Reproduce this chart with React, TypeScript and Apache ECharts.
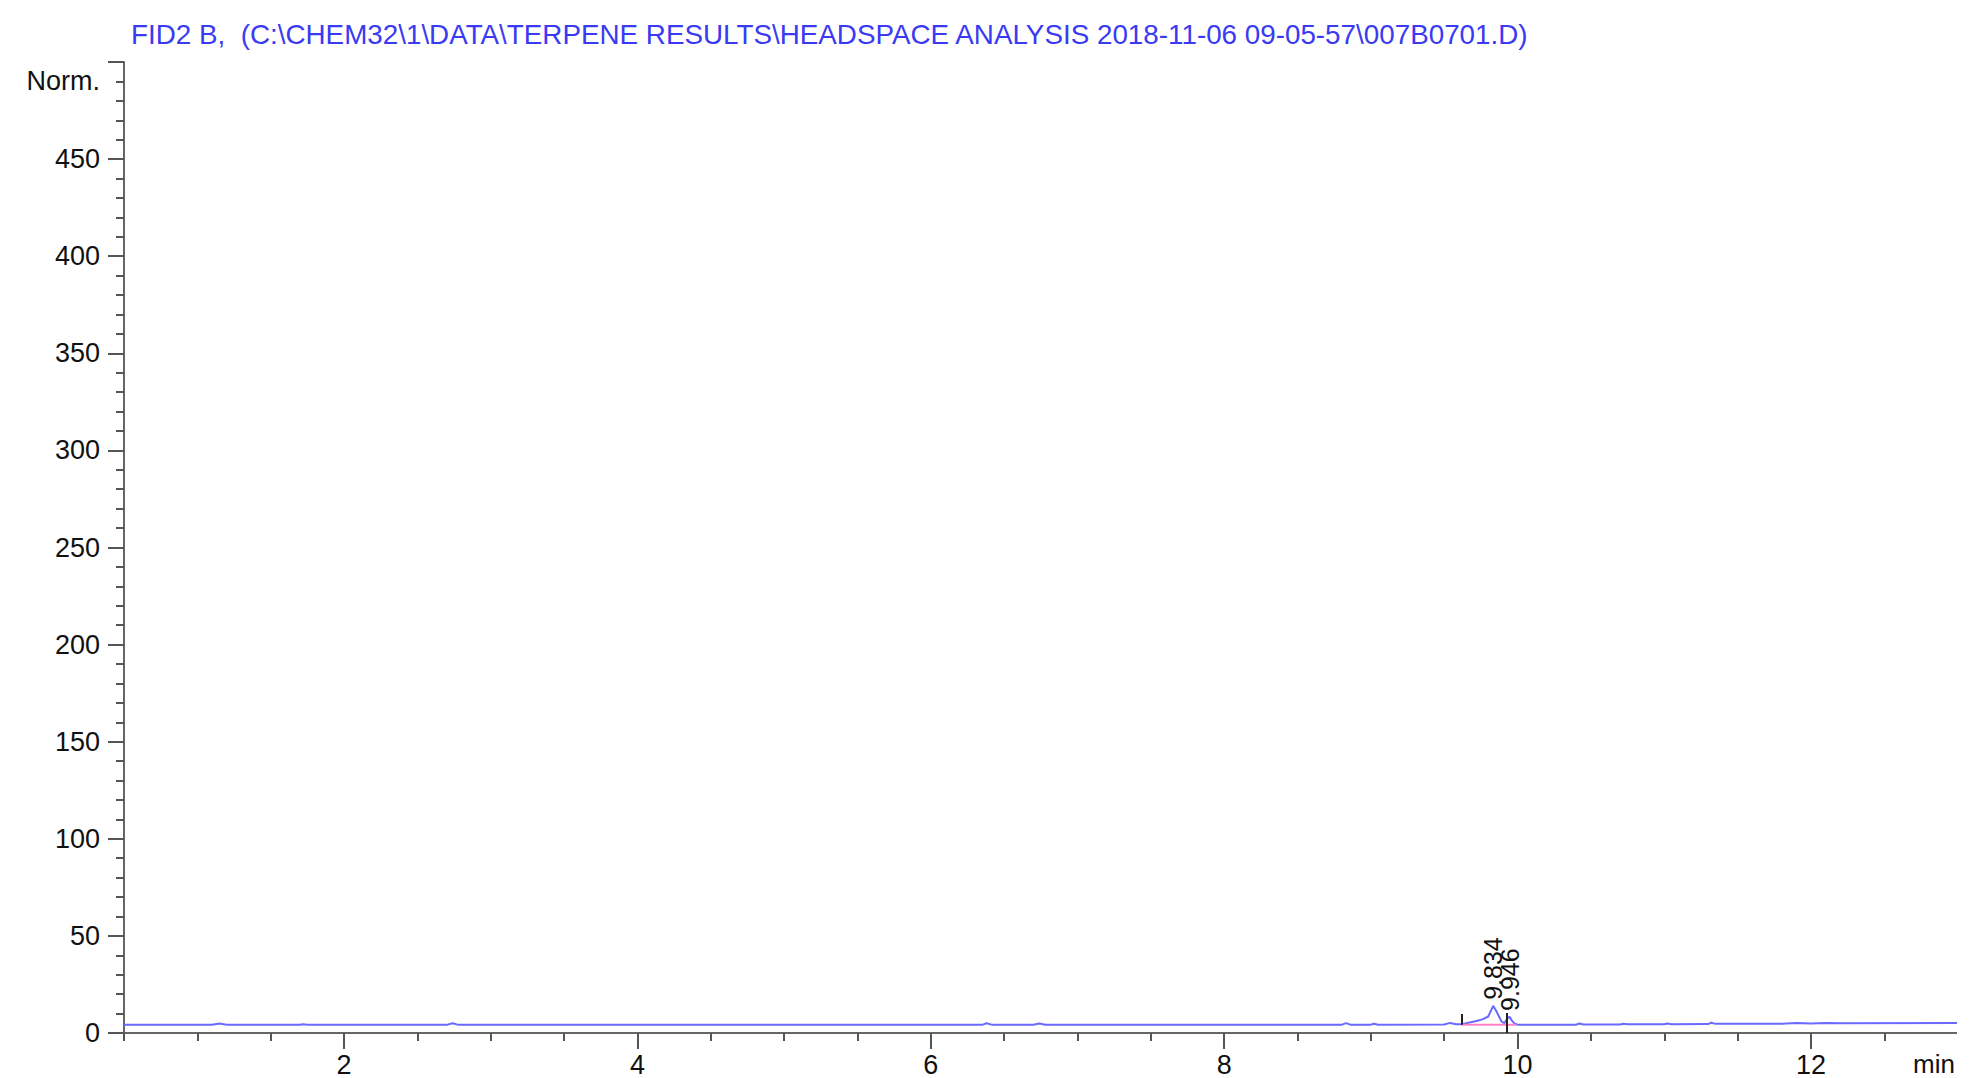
import React, { useEffect, useRef } from "react";
import * as echarts from "echarts";

const titleText =
  "FID2 B,  (C:\\CHEM32\\1\\DATA\\TERPENE RESULTS\\HEADSPACE ANALYSIS 2018-11-06 09-05-57\\007B0701.D)";
const yName = "Norm.";
const xName = "min";

const xMin = 0.5;
const xMax = 13.5;
const yMin = 0;
const yMax = 500;
const yStep = 50;
const xMajorTicks = [2, 4, 6, 8, 10, 12];
const xMinorStep = 0.5;

const retentionTime = [
  0.5, 1.1, 1.15, 1.2, 1.7, 1.72, 1.75, 2.7, 2.74, 2.78, 6.35, 6.38, 6.42,
  6.7, 6.74, 6.78, 8.8, 8.83, 8.86, 9.0, 9.02, 9.05, 9.5, 9.54, 9.58, 9.62,
  9.68, 9.72, 9.76, 9.8, 9.834, 9.86, 9.89, 9.91, 9.93, 9.946, 9.96, 9.98,
  10.0, 10.4, 10.42, 10.45, 10.7, 10.72, 10.75, 11.0, 11.02, 11.05, 11.3,
  11.32, 11.35, 11.8, 11.9, 12.0, 12.1, 12.2, 13.5,
];
const signal = [
  4.2, 4.2, 4.9, 4.2, 4.2, 4.5, 4.2, 4.2, 5.0, 4.2, 4.2, 5.0, 4.2,
  4.2, 4.9, 4.2, 4.2, 5.1, 4.3, 4.3, 4.8, 4.3, 4.4, 5.2, 4.5, 4.5,
  5.5, 6.2, 7.0, 8.5, 14.0, 10.5, 6.0, 5.0, 7.5, 8.3, 6.5, 4.8,
  4.3, 4.3, 4.9, 4.4, 4.4, 4.8, 4.5, 4.5, 4.9, 4.5, 4.6,
  5.3, 4.7, 4.8, 5.1, 4.9, 5.1, 5.0, 5.2,
];

const peakTimes = [9.834, 9.946];
const peakHeights = [14.0, 8.3];
const peakLabels = ["9.834", "9.946"];

const baselineTimes = [9.62, 9.99];
const baselineValues = [4.3, 4.2];

const markerTimes = [9.62, 9.928];
const markerFrom = [4.2, 0];
const markerTo = [9.8, 10.3];

const FONT = "'Liberation Sans', Arial, Helvetica, sans-serif";

export default function App() {
  const ref = useRef<HTMLDivElement>(null);

  useEffect(() => {
    if (!ref.current) return;
    const chart = echarts.init(ref.current, undefined, { renderer: "svg" });

    const lineData = retentionTime.map((t, i) => [t, signal[i]]);
    const baseData = baselineTimes.map((t, i) => [t, baselineValues[i]]);

    const option: any = {
      animation: false,
      backgroundColor: "#ffffff",
      grid: { left: 124, top: 62, right: 29, bottom: 67, containLabel: false },
      xAxis: [
        {
          type: "value",
          min: xMin,
          max: xMax,
          position: "bottom",
          axisLine: { show: true, onZero: false, lineStyle: { color: "#666", width: 2 } },
          axisTick: {
            show: true,
            customValues: xMajorTicks,
            length: 16,
            lineStyle: { color: "#555", width: 2 },
          },
          axisLabel: {
            show: true,
            customValues: xMajorTicks,
            fontSize: 27,
            fontFamily: FONT,
            color: "#111",
            margin: 18,
          },
          splitLine: { show: false },
        },
        {
          type: "value",
          min: xMin,
          max: xMax,
          interval: xMinorStep,
          position: "bottom",
          gridIndex: 0,
          axisLine: { show: false },
          axisTick: { show: true, length: 8, lineStyle: { color: "#555", width: 2 } },
          axisLabel: { show: false },
          splitLine: { show: false },
        },
      ],
      yAxis: {
        type: "value",
        min: yMin,
        max: yMax,
        interval: yStep,
        axisLine: { show: true, lineStyle: { color: "#666", width: 2 } },
        axisTick: { show: true, length: 16, lineStyle: { color: "#555", width: 2 } },
        minorTick: { show: true, splitNumber: 5, length: 8, lineStyle: { color: "#555", width: 2 } },
        axisLabel: {
          fontSize: 27,
          fontFamily: FONT,
          color: "#111",
          margin: 24,
          showMaxLabel: false,
        },
        splitLine: { show: false },
        minorSplitLine: { show: false },
      },
      graphic: [
        {
          type: "text",
          x: 131,
          y: 34,
          style: {
            text: titleText,
            fontSize: 27.8,
            fontFamily: FONT,
            fill: "#3a3af2",
            align: "left",
            verticalAlign: "middle",
          },
        },
        {
          type: "text",
          x: 100,
          y: 81,
          style: {
            text: yName,
            fontSize: 27,
            fontFamily: FONT,
            fill: "#111",
            align: "right",
            verticalAlign: "middle",
          },
        },
        {
          type: "text",
          x: 1913,
          y: 1051,
          style: {
            text: xName,
            fontSize: 26,
            fontFamily: FONT,
            fill: "#111",
            align: "left",
            verticalAlign: "top",
          },
        },
      ],
      series: [
        {
          type: "line",
          name: "FID2 B",
          xAxisIndex: 0,
          data: lineData,
          symbol: "none",
          lineStyle: { color: "#6a6aff", width: 2 },
          z: 3,
          markPoint: {
            symbol: "circle",
            symbolSize: 0,
            silent: true,
            data: peakTimes.map((t, i) => ({
              coord: [t, peakHeights[i]],
              name: peakLabels[i],
            })),
            label: {
              show: true,
              formatter: "{b}",
              position: "top",
              distance: 6,
              rotate: 90,
              align: "left",
              verticalAlign: "middle",
              fontSize: 25,
              fontFamily: FONT,
              color: "#111",
            },
          },
        },
        {
          type: "line",
          name: "baseline",
          xAxisIndex: 0,
          data: baseData,
          symbol: "none",
          lineStyle: { color: "#ff80c8", width: 2 },
          z: 4,
          markLine: {
            silent: true,
            symbol: ["none", "none"],
            label: { show: false },
            lineStyle: { color: "#222", width: 2, type: "solid" },
            data: markerTimes.map((t, i) => [
              { coord: [t, markerFrom[i]] },
              { coord: [t, markerTo[i]] },
            ]),
          },
        },
      ],
    };

    chart.setOption(option);
    return () => chart.dispose();
  }, []);

  return (
    <div
      style={{
        position: "fixed",
        left: 0,
        top: 0,
        width: 1957,
        height: "100vh",
        overflow: "hidden",
        background: "#fff",
      }}
    >
      <div ref={ref} style={{ width: 2060, height: 1100 }} />
    </div>
  );
}
